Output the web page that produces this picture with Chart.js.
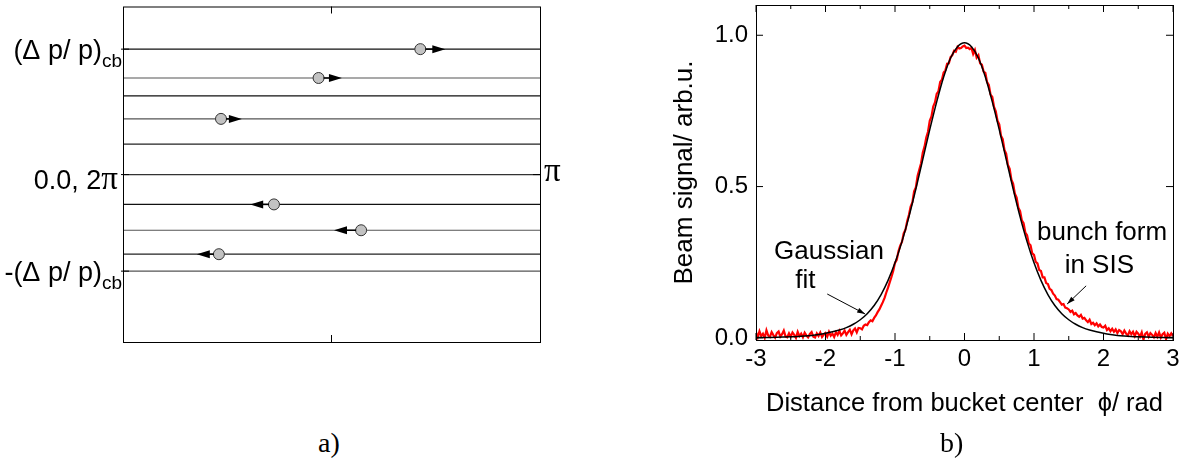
<!DOCTYPE html>
<html>
<head>
<meta charset="utf-8">
<script src="https://cdn.jsdelivr.net/npm/chart.js@4.4.1/dist/chart.umd.min.js"></script>
<style>
  html, body { margin: 0; padding: 0; background: #fff; }
  body { width: 1190px; height: 471px; position: relative; overflow: hidden; }
  #phaseBox { position: absolute; left: 0; top: 0; width: 600px; height: 360px; }
  #bunchBox { position: absolute; left: 660px; top: 0; width: 530px; height: 430px; }
  .panel-tag { position: absolute; top: 427px; font: 28px "Liberation Serif", serif; color: #000; }
</style>
</head>
<body>
<div id="phaseBox"><canvas id="phaseChart"></canvas></div>
<div id="bunchBox"><canvas id="bunchChart"></canvas></div>
<div class="panel-tag" style="left:318px">a)</div>
<div class="panel-tag" style="left:940px">b)</div>
<script>
// ---- a) coasting particles, momentum offset vs phase (phase in units of pi) ----
const levels = [1.0, 0.77, 0.627, 0.444, 0.242, 0, -0.238, -0.444, -0.635, -0.77];
const levelColors = ['#111', '#555', '#111', '#555', '#222', '#333', '#111', '#555', '#222', '#555'];
const particleLevel = [1.0, 0.77, 0.444, -0.238, -0.444, -0.635];
const particlePhase = [0.713, 0.469, 0.235, 0.362, 0.571, 0.230];
const arrowTip = [0.773, 0.525, 0.285, 0.305, 0.506, 0.177];
const phaseTickLevels = [1.0, 0, -0.77];

// ---- b) measured bunch shape and Gaussian fit ----
const xTicks = [-3, -2, -1, 0, 1, 2, 3];
const yTicks = [0, 0.5, 1.0];
const fitStart = -3, fitStep = 0.1;
const fitValues = [
  0.001, 0.0012, 0.0015, 0.002, 0.0027, 0.0035, 0.0045, 0.006, 0.008, 0.011,
  0.015, 0.020, 0.026, 0.034, 0.045, 0.060, 0.080, 0.107, 0.143, 0.190,
  0.248, 0.318, 0.400, 0.492, 0.590, 0.688, 0.780, 0.862, 0.925, 0.962,
  0.975,
  0.962, 0.925, 0.862, 0.780, 0.688, 0.590, 0.492, 0.400, 0.318, 0.248,
  0.190, 0.143, 0.107, 0.080, 0.060, 0.045, 0.034, 0.026, 0.020, 0.015,
  0.011, 0.008, 0.006, 0.0045, 0.0035, 0.0027, 0.002, 0.0015, 0.0012, 0.001
];
const sampleStart = -3, sampleStep = 0.025;
const signal = [
  0.018, 0.002, 0.022, 0.006, 0.014, 0.000, 0.025, 0.008, 0.003, 0.019,
  0.009, 0.001, 0.016, 0.021, 0.004, 0.012, 0.024, 0.005, 0.002, 0.015,
  0.004, 0.018, 0.010, 0.000, 0.020, 0.006, 0.014, 0.002, 0.017, 0.008,
  0.002, 0.013, 0.019, 0.004, 0.001, 0.015, 0.006, 0.018, 0.003, 0.011,
  0.016, 0.004, 0.020, 0.007, 0.014, 0.003, 0.019, 0.010, 0.023, 0.008,
  0.015, 0.024, 0.010, 0.019, 0.027, 0.012, 0.025, 0.031, 0.018, 0.033,
  0.032, 0.028, 0.040, 0.044, 0.042, 0.052, 0.058, 0.055, 0.066, 0.074,
  0.085, 0.094, 0.106, 0.118, 0.132, 0.150, 0.166, 0.184, 0.202, 0.222,
  0.248, 0.258, 0.286, 0.305, 0.317, 0.345, 0.357, 0.385, 0.406, 0.434,
  0.448, 0.484, 0.497, 0.535, 0.556, 0.577, 0.613, 0.632, 0.662, 0.681,
  0.717, 0.732, 0.764, 0.778, 0.806, 0.815, 0.846, 0.853, 0.877, 0.884,
  0.906, 0.907, 0.928, 0.934, 0.949, 0.946, 0.962, 0.956, 0.958, 0.963,
  0.966, 0.958, 0.959, 0.954, 0.958, 0.938, 0.951, 0.926, 0.934, 0.907,
  0.903, 0.880, 0.876, 0.845, 0.836, 0.804, 0.796, 0.763, 0.749, 0.718,
  0.706, 0.668, 0.657, 0.621, 0.608, 0.571, 0.559, 0.523, 0.509, 0.476,
  0.464, 0.430, 0.419, 0.388, 0.379, 0.348, 0.339, 0.312, 0.306, 0.279,
  0.274, 0.251, 0.246, 0.224, 0.221, 0.200, 0.200, 0.181, 0.178, 0.162,
  0.158, 0.146, 0.140, 0.128, 0.126, 0.118, 0.110, 0.112, 0.100, 0.098,
  0.094, 0.086, 0.090, 0.078, 0.082, 0.074, 0.070, 0.076, 0.064, 0.066,
  0.058, 0.052, 0.060, 0.046, 0.050, 0.042, 0.048, 0.038, 0.044, 0.036,
  0.034, 0.040, 0.026, 0.032, 0.022, 0.030, 0.020, 0.028, 0.016, 0.026,
  0.022, 0.012, 0.024, 0.014, 0.008, 0.022, 0.012, 0.020, 0.006, 0.020,
  0.014, 0.004, 0.018, -0.006, 0.013, 0.018, 0.004, 0.016, 0.010, 0.002,
  0.016, 0.004, 0.018, 0.001, 0.012, 0.017, -0.004, 0.014, 0.006, 0.015,
  0.006
];
// text notes and pointer arrows, in data units
const notes = [
  { text: 'Gaussian', x: -1.95, y: 0.285 },
  { text: 'fit', x: -2.29, y: 0.188 },
  { text: 'bunch form', x: 1.98, y: 0.347 },
  { text: 'in SIS', x: 1.94, y: 0.239 }
];
const pointers = [
  { from: [-1.975, 0.145], to: [-1.43, 0.079] },
  { from: [1.75, 0.172], to: [1.477, 0.112] }
];

const SANS = '"Liberation Sans", Arial, sans-serif';
const SERIF = '"Liberation Serif", "Times New Roman", serif';

function arrowHead(ctx, x0, y0, x1, y1, len, half) {
  const ang = Math.atan2(y1 - y0, x1 - x0);
  ctx.beginPath();
  ctx.moveTo(x1, y1);
  ctx.lineTo(x1 - len * Math.cos(ang) + half * Math.sin(ang), y1 - len * Math.sin(ang) - half * Math.cos(ang));
  ctx.lineTo(x1 - len * Math.cos(ang) - half * Math.sin(ang), y1 - len * Math.sin(ang) + half * Math.cos(ang));
  ctx.closePath();
  ctx.fill();
}

/* =====================
   a) phase space sketch
   ===================== */
const phasePlugin = {
  id: 'phaseDecor',
  afterDatasetsDraw(chart) {
    const { ctx, scales: { x, y } } = chart;
    ctx.save();
    ctx.fillStyle = '#000';
    ctx.strokeStyle = '#000';
    // direction of motion for each particle
    particlePhase.forEach((p, i) => {
      const px = x.getPixelForValue(p);
      const tx = x.getPixelForValue(arrowTip[i]);
      const py = y.getPixelForValue(particleLevel[i]);
      const dir = Math.sign(tx - px);
      ctx.lineWidth = 1.5;
      ctx.beginPath();
      ctx.moveTo(px + dir * 5, py);
      ctx.lineTo(tx - dir * 10, py);
      ctx.stroke();
      arrowHead(ctx, px, py, tx, py, 13, 4);
    });
    ctx.restore();
  },
  afterDraw(chart) {
    const { ctx, chartArea: a, scales: { x, y } } = chart;
    ctx.save();
    ctx.strokeStyle = '#000';
    ctx.lineWidth = 1;
    ctx.strokeRect(a.left + 0.5, a.top + 0.5, a.right - a.left, a.bottom - a.top);
    // ticks
    const mid = x.getPixelForValue(0.5);
    ctx.beginPath();
    ctx.moveTo(mid, a.top); ctx.lineTo(mid, a.top + 7);
    ctx.moveTo(mid, a.bottom); ctx.lineTo(mid, a.bottom - 7);
    phaseTickLevels.forEach(v => {
      const py = y.getPixelForValue(v);
      ctx.moveTo(a.left - 2, py); ctx.lineTo(a.left + 6, py);
    });
    const c = y.getPixelForValue(0);
    ctx.moveTo(a.right - 7, c); ctx.lineTo(a.right, c);
    ctx.stroke();

    // axis labels
    ctx.fillStyle = '#000';
    ctx.textBaseline = 'alphabetic';
    const momentumLabel = (main, lv) => {
      const py = y.getPixelForValue(lv);
      ctx.font = '27px ' + SANS;
      const w1 = ctx.measureText(main).width;
      ctx.font = '19px ' + SANS;
      const w2 = ctx.measureText('cb').width;
      const x0 = a.left - 1 - w1 - w2;
      ctx.font = '27px ' + SANS;
      ctx.fillText(main, x0, py + 9.5);
      ctx.font = '19px ' + SANS;
      ctx.fillText('cb', x0 + w1, py + 18);
    };
    momentumLabel('(\u0394 p/ p)', phaseTickLevels[0]);
    momentumLabel('-(\u0394 p/ p)', phaseTickLevels[2]);

    const c0 = y.getPixelForValue(phaseTickLevels[1]);
    ctx.font = '33px ' + SERIF;
    const wPi = ctx.measureText('\u03c0').width;
    ctx.font = '27px ' + SANS;
    const wNum = ctx.measureText('0.0, 2').width;
    const sx = a.left - 5 - wPi - wNum;
    ctx.fillText('0.0, 2', sx, c0 + 14);
    ctx.font = '33px ' + SERIF;
    ctx.fillText('\u03c0', sx + wNum, c0 + 14);
    ctx.fillText('\u03c0', a.right + 4, c0 + 6);
    ctx.restore();
  }
};

const phaseCtx = document.getElementById('phaseChart');
if (phaseCtx) {
  const levelSets = levels.map((lv, i) => ({
    data: [{ x: 0, y: lv }, { x: 1, y: lv }],
    showLine: true,
    borderColor: levelColors[i],
    borderWidth: 1.2,
    pointRadius: 0,
    order: 2
  }));
  new Chart(phaseCtx, {
    type: 'scatter',
    data: {
      datasets: [
        ...levelSets,
        {
          data: particlePhase.map((p, i) => ({ x: p, y: particleLevel[i] })),
          pointRadius: 5.5,
          backgroundColor: '#c2c2c2',
          borderColor: '#333',
          borderWidth: 1,
          order: 0
        }
      ]
    },
    options: {
      responsive: true,
      maintainAspectRatio: false,
      animation: false,
      layout: { padding: { left: 123, right: 60, top: 5, bottom: 18 } },
      scales: {
        x: { type: 'linear', min: 0, max: 1, display: false },
        y: { type: 'linear', min: -1.335, max: 1.34, display: false }
      },
      plugins: { legend: { display: false }, tooltip: { enabled: false } }
    },
    plugins: [phasePlugin]
  });
}

/* =====================
   b) bunch signal
   ===================== */
const bunchPlugin = {
  id: 'bunchDecor',
  afterDatasetsDraw(chart) {
    const { ctx, scales: { x, y } } = chart;
    ctx.save();
    ctx.fillStyle = '#000';
    ctx.strokeStyle = '#000';
    ctx.font = '26px ' + SANS;
    ctx.textAlign = 'center';
    ctx.textBaseline = 'middle';
    notes.forEach(n => ctx.fillText(n.text, x.getPixelForValue(n.x), y.getPixelForValue(n.y)));
    ctx.lineWidth = 1;
    pointers.forEach(p => {
      const x0 = x.getPixelForValue(p.from[0]), y0 = y.getPixelForValue(p.from[1]);
      const x1 = x.getPixelForValue(p.to[0]), y1 = y.getPixelForValue(p.to[1]);
      ctx.beginPath();
      ctx.moveTo(x0, y0);
      ctx.lineTo(x1, y1);
      ctx.stroke();
      arrowHead(ctx, x0, y0, x1, y1, 8, 2.5);
    });
    ctx.restore();
  },
  afterDraw(chart) {
    const { ctx, chartArea: a, scales: { x, y } } = chart;
    ctx.save();
    ctx.strokeStyle = '#000';
    ctx.lineWidth = 1;
    ctx.strokeRect(a.left + 0.5, a.top + 0.5, a.right - a.left, a.bottom - a.top);
    ctx.beginPath();
    // inward ticks, majors on the labelled values, minors half way between
    x.ticks.forEach((t, i) => {
      const px = x.getPixelForValue(t.value);
      ctx.moveTo(px, a.bottom); ctx.lineTo(px, a.bottom - 7);
      ctx.moveTo(px, a.top); ctx.lineTo(px, a.top + 7);
      if (i < x.ticks.length - 1) {
        const mx = x.getPixelForValue((t.value + x.ticks[i + 1].value) / 2);
        ctx.moveTo(mx, a.bottom); ctx.lineTo(mx, a.bottom - 4);
        ctx.moveTo(mx, a.top); ctx.lineTo(mx, a.top + 4);
      }
    });
    y.ticks.forEach(t => {
      const py = y.getPixelForValue(t.value);
      ctx.moveTo(a.left, py); ctx.lineTo(a.left + 7, py);
      ctx.moveTo(a.right, py); ctx.lineTo(a.right - 7, py);
    });
    ctx.stroke();
    ctx.restore();
  }
};

const bunchCtx = document.getElementById('bunchChart');
if (bunchCtx) {
  new Chart(bunchCtx, {
    type: 'scatter',
    data: {
      datasets: [
        {
          label: 'Gaussian fit',
          data: fitValues.map((v, i) => ({ x: fitStart + i * fitStep, y: v })),
          showLine: true,
          borderColor: '#000',
          borderWidth: 1.5,
          pointRadius: 0,
          cubicInterpolationMode: 'monotone'
        },
        {
          label: 'bunch form in SIS',
          data: signal.map((v, i) => ({ x: sampleStart + i * sampleStep, y: v })),
          showLine: true,
          borderColor: '#ff0000',
          borderWidth: 2.2,
          pointRadius: 0,
          tension: 0
        }
      ]
    },
    options: {
      responsive: true,
      maintainAspectRatio: false,
      animation: false,
      layout: { padding: { left: 0, right: 17, top: 5, bottom: 0 } },
      scales: {
        x: {
          type: 'linear',
          min: -3,
          max: 3,
          afterBuildTicks: s => { s.ticks = xTicks.map(v => ({ value: v })); },
          afterFit: s => { s.height = 90; s.paddingLeft = 0; s.paddingRight = 0; },
          grid: { display: false, drawTicks: false },
          border: { display: false },
          ticks: { padding: 5, color: '#000', font: { family: SANS, size: 24 }, callback: v => String(v) },
          title: {
            display: true,
            text: 'Distance from bucket center  \u03d5/ rad',
            color: '#000',
            font: { family: SANS, size: 25.5 },
            padding: { top: 0, bottom: 11 }
          }
        },
        y: {
          type: 'linear',
          min: -0.007,
          max: 1.1,
          afterBuildTicks: s => { s.ticks = yTicks.map(v => ({ value: v })); },
          afterFit: s => { s.width = 96; s.paddingTop = 0; s.paddingBottom = 0; },
          grid: { display: false, drawTicks: false },
          border: { display: false },
          ticks: { padding: 8, color: '#000', font: { family: SANS, size: 24 }, callback: v => v.toFixed(1) },
          title: {
            display: true,
            text: 'Beam signal/ arb.u.',
            color: '#000',
            font: { family: SANS, size: 26 },
            padding: { top: 9, bottom: 0 }
          }
        }
      },
      plugins: { legend: { display: false }, tooltip: { enabled: false } }
    },
    plugins: [bunchPlugin]
  });
}
</script>
</body>
</html>
